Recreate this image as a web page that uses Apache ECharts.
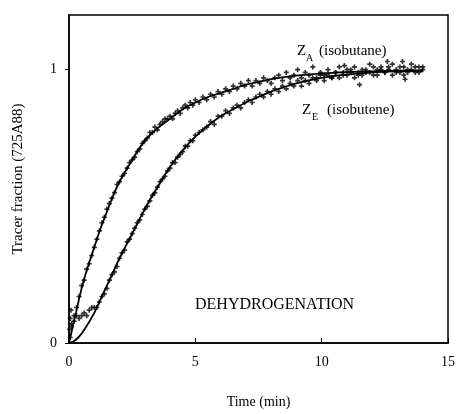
<!DOCTYPE html>
<html>
<head>
<meta charset="utf-8">
<script src="https://cdn.jsdelivr.net/npm/echarts@6/dist/echarts.min.js"></script>
<style>
  html, body { margin: 0; padding: 0; background: #fff; }
  #chart { width: 458px; height: 414px; }
</style>
</head>
<body>
<div id="chart"></div>
<script>
const chart = echarts.init( document.getElementById( 'chart' ) );

// courbes ajustées (temps en min, fraction de traceur)
const fitTime = [ 0, 0.25, 0.5, 0.75, 1, 1.25, 1.5, 1.75, 2, 2.5, 3, 3.5, 4, 4.5, 5, 5.5, 6, 6.5, 7, 7.5, 8, 9, 10, 11, 12, 13, 14 ];
const isobutaneFit = [ 0, 0.1, 0.2, 0.28, 0.35, 0.42, 0.48, 0.54, 0.59, 0.67, 0.74, 0.785, 0.82, 0.855, 0.88, 0.9, 0.915, 0.93, 0.945, 0.955, 0.965, 0.978, 0.986, 0.991, 0.994, 0.996, 0.997 ];
const isobuteneFit = [ 0, 0.01, 0.035, 0.07, 0.11, 0.16, 0.21, 0.26, 0.31, 0.4, 0.49, 0.57, 0.645, 0.705, 0.755, 0.795, 0.83, 0.855, 0.88, 0.9, 0.92, 0.95, 0.97, 0.982, 0.99, 0.994, 0.996 ];

// points mesurés
const isobutanePts = [
  [0.02,0.05],[0.05,0.09],[0.08,0.12],[0.1,0.07],[0.2,0.1],[0.3,0.13],[0.4,0.17],[0.5,0.21],[0.6,0.23],[0.7,0.27],
  [0.8,0.29],[0.9,0.32],[1.0,0.35],[1.1,0.38],[1.2,0.41],[1.3,0.44],[1.4,0.46],[1.5,0.49],[1.6,0.51],[1.7,0.53],
  [1.8,0.55],[1.9,0.58],[2.0,0.59],[2.1,0.61],[2.2,0.62],[2.3,0.64],[2.4,0.66],[2.5,0.67],[2.6,0.68],[2.7,0.70],
  [2.8,0.71],[2.9,0.73],[3.0,0.74],[3.1,0.75],[3.2,0.77],[3.3,0.77],[3.4,0.79],[3.5,0.78],[3.6,0.80],[3.7,0.81],
  [3.8,0.82],[3.9,0.82],[4.0,0.83],[4.1,0.82],[4.2,0.84],[4.3,0.85],[4.4,0.84],[4.5,0.86],[4.6,0.87],[4.7,0.86],
  [4.8,0.88],[4.9,0.87],[5.0,0.89],[5.15,0.88],[5.3,0.9],[5.45,0.89],[5.6,0.91],[5.75,0.9],[5.9,0.92],[6.05,0.91],
  [6.2,0.93],[6.35,0.92],[6.5,0.94],[6.65,0.93],[6.8,0.95],[6.95,0.94],[7.1,0.96],[7.25,0.94],[7.4,0.96],[7.55,0.95],
  [7.7,0.97],[7.85,0.96],[8.0,0.95],[8.15,0.97],[8.3,0.98],[8.45,0.96],[8.6,0.99],[8.75,0.97],[8.9,0.98],[9.05,1.0],
  [9.2,0.97],[9.35,0.99],[9.5,0.98],[9.65,1.01],[9.8,0.97],[9.95,0.99],[10.1,0.98],[10.25,1.0],[10.4,0.97],[10.55,0.99],
  [10.7,1.01],[10.85,0.98],[10.9,1.015],[11.0,1.0],[11.15,0.99],[11.3,1.01],[11.45,0.98],[11.5,0.945],[11.6,1.0],[11.75,0.99],
  [11.9,1.02],[12.05,0.98],[12.2,1.0],[12.35,1.01],[12.5,0.99],[12.6,1.03],[12.65,1.0],[12.8,1.02],[12.95,0.99],[13.1,1.01],
  [13.2,1.03],[13.25,0.98],[13.3,0.965],[13.4,1.0],[13.55,1.02],[13.7,0.99],[13.85,1.01],[14.0,1.0]
];
const isobutenePts = [
  [0.05,0.02],[0.1,0.06],[0.2,0.08],[0.3,0.1],[0.4,0.09],[0.5,0.1],[0.6,0.11],[0.7,0.1],[0.8,0.12],[0.9,0.13],
  [1.0,0.13],[1.1,0.13],[1.2,0.15],[1.3,0.17],[1.4,0.18],[1.5,0.2],[1.6,0.23],[1.7,0.25],[1.8,0.26],[1.9,0.28],
  [2.0,0.31],[2.1,0.33],[2.2,0.34],[2.3,0.37],[2.4,0.38],[2.5,0.40],[2.6,0.42],[2.7,0.44],[2.8,0.45],[2.9,0.47],
  [3.0,0.49],[3.1,0.5],[3.2,0.52],[3.3,0.54],[3.4,0.55],[3.5,0.57],[3.6,0.59],[3.7,0.6],[3.8,0.61],[3.9,0.63],
  [4.0,0.64],[4.1,0.66],[4.2,0.66],[4.3,0.68],[4.4,0.69],[4.5,0.70],[4.6,0.72],[4.7,0.72],[4.8,0.74],[4.9,0.74],
  [5.0,0.76],[5.15,0.77],[5.3,0.78],[5.45,0.79],[5.6,0.81],[5.75,0.8],[5.9,0.83],[6.05,0.83],[6.2,0.85],[6.35,0.84],
  [6.5,0.86],[6.65,0.87],[6.8,0.86],[6.95,0.88],[7.1,0.89],[7.25,0.88],[7.4,0.9],[7.55,0.91],[7.7,0.9],[7.85,0.92],
  [8.0,0.91],[8.15,0.93],[8.3,0.92],[8.45,0.94],[8.6,0.93],[8.75,0.95],[8.9,0.94],[9.05,0.96],[9.2,0.94],[9.35,0.96],
  [9.5,0.95],[9.65,0.97],[9.8,0.96],[9.95,0.98],[10.1,0.96],[10.25,0.98],[10.4,0.97],[10.55,0.99],[10.7,0.97],[10.85,0.99],
  [11.0,0.98],[11.15,1.0],[11.3,0.97],[11.45,0.99],[11.6,0.98],[11.75,1.0],[11.9,0.99],[12.05,1.01],[12.2,0.98],[12.35,1.0],
  [12.5,0.99],[12.65,1.01],[12.8,0.98],[12.95,1.0],[13.1,0.99],[13.25,1.01],[13.4,0.99],[13.55,1.0],[13.7,1.01],[13.85,0.99],
  [14.0,1.01]
];

const xTicks = [ 0, 5, 10, 15 ];
const yTicks = [ 0, 1 ];

const ink = '#000';
const serif = 'Liberation Serif';
// petite croix pleine pour les points
const plus = 'path://M2,0h2v2h2v2h-2v2h-2v-2h-2v-2h2z';

function fitSeries ( values ) {
  return {
    type: 'line',
    data: fitTime.map( ( t, i ) => [ t, values[ i ] ] ),
    smooth: 0.4,
    symbol: 'none',
    lineStyle: { color: ink, width: 1.8 },
    z: 3
  };
}

function pointSeries ( pts ) {
  return {
    type: 'scatter',
    data: pts,
    symbol: plus,
    symbolSize: 5,
    itemStyle: { color: ink },
    z: 4
  };
}

function label ( text, left, top, size ) {
  return { type: 'text', left: left, top: top, style: { text: text, font: size + 'px "Liberation Serif"', fill: ink } };
}

chart.setOption( {
  animation: false,
  backgroundColor: '#fff',
  grid: {
    left: 69, right: 6, top: 15, bottom: 65,
    show: true, borderColor: ink, borderWidth: 1.5
  },
  xAxis: {
    type: 'value', min: 0, max: 15, interval: 5,
    name: 'Time (min)', nameLocation: 'middle', nameGap: 52,
    nameTextStyle: { fontFamily: serif, fontSize: 14, color: ink },
    axisLine: { show: true, lineStyle: { color: ink, width: 1.5 } },
    axisTick: { inside: true, length: 5, lineStyle: { color: ink }, customValues: xTicks },
    axisLabel: { fontFamily: serif, fontSize: 14, color: ink, margin: 12, customValues: xTicks },
    splitLine: { show: false }
  },
  yAxis: {
    type: 'value', min: 0, max: 1.2, interval: 1,
    name: 'Tracer fraction (725A88)', nameLocation: 'middle', nameGap: 43,
    nameTextStyle: { fontFamily: serif, fontSize: 15, color: ink },
    axisLine: { show: true, lineStyle: { color: ink, width: 1.5 } },
    axisTick: { inside: false, length: 4, lineStyle: { color: ink }, customValues: yTicks },
    axisLabel: { fontFamily: serif, fontSize: 14, color: ink, margin: 12, customValues: yTicks },
    splitLine: { show: false }
  },
  graphic: [
    label( 'Z', 297, 44, 15 ),
    label( 'A', 306, 53, 10 ),
    label( '(isobutane)', 319, 44, 15 ),
    label( 'Z', 302, 103, 15 ),
    label( 'E', 312, 112, 10 ),
    label( '(isobutene)', 327, 103, 15 ),
    label( 'DEHYDROGENATION', 195, 297, 16 )
  ],
  series: [
    fitSeries( isobutaneFit ),
    fitSeries( isobuteneFit ),
    pointSeries( isobutanePts ),
    pointSeries( isobutenePts )
  ]
} );
</script>
</body>
</html>
